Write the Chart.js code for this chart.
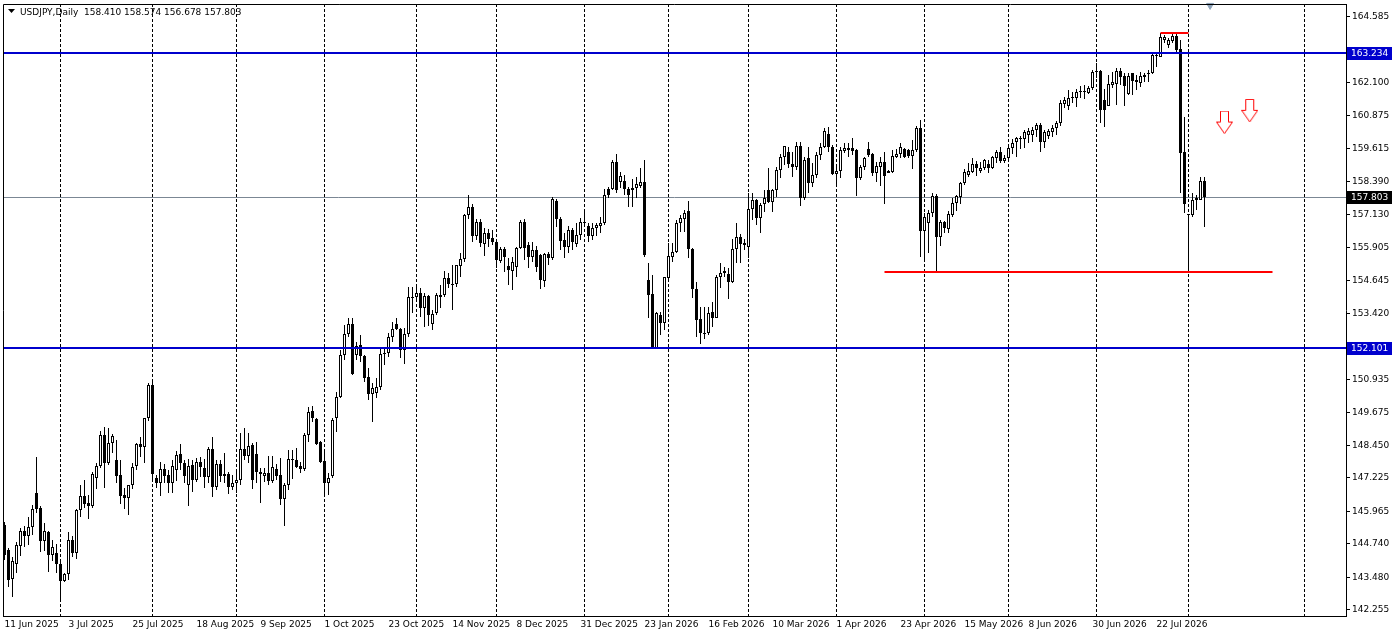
<!DOCTYPE html>
<html>
<head>
<meta charset="utf-8">
<script src="https://cdn.jsdelivr.net/npm/chart.js@4.4.1/dist/chart.umd.min.js"></script>
<style>
  html, body { margin: 0; padding: 0; background: #fff; }
  #wrap { width: 1394px; height: 638px; }
</style>
</head>
<body>
<div id="wrap"><canvas id="chart" width="1394" height="638"></canvas></div>
<script>
// USDJPY daily candles (one bar per trading day from 11 Jun 2025)
const symbolName = "USDJPY,Daily";

const opens = [
  145.45, 144.51, 143.42, 143.98, 144.66, 145.23, 145.04, 145.38, 146.66, 146.09,
  144.85, 145.19, 144.32, 144.40, 143.98, 143.34, 143.61, 144.89, 144.40, 146.02,
  146.55, 146.28, 146.17, 147.22, 147.68, 148.84, 147.79, 148.54, 147.90, 147.34,
  146.58, 146.47, 146.96, 147.68, 148.50, 148.39, 149.48, 150.73, 147.22, 147.04,
  147.56, 147.34, 147.04, 147.53, 148.13, 147.79, 146.96, 147.71, 147.15, 147.83,
  147.60, 147.26, 148.32, 146.89, 147.75, 147.37, 147.37, 146.89, 147.04, 147.15,
  148.32, 148.05, 148.47, 148.13, 147.45, 147.30, 147.41, 147.11, 147.56, 147.34,
  146.43, 146.96, 147.90, 147.90, 147.68, 147.56, 148.84, 149.75, 149.45, 148.58,
  147.86, 147.04, 147.30, 149.48, 150.27, 151.86, 152.65, 153.02, 151.86, 152.23,
  151.82, 151.03, 150.39, 150.43, 150.65, 151.93, 151.93, 152.53, 153.02, 152.84,
  152.04, 152.65, 154.04, 154.04, 154.19, 153.63, 154.08, 153.02, 153.44, 154.04,
  154.12, 154.76, 154.53, 154.53, 155.21, 155.47, 157.13, 157.43, 156.34, 156.86,
  156.04, 156.45, 156.26, 156.11, 155.40, 155.85, 155.21, 155.02, 155.17, 155.89,
  156.86, 156.00, 155.55, 155.81, 155.62, 154.64, 155.66, 155.51, 157.66, 156.98,
  156.19, 155.92, 156.56, 156.04, 156.38, 156.86, 156.71, 156.34, 156.64, 156.71,
  156.83, 158.11, 158.11, 159.12, 158.37, 158.41, 158.11, 158.07, 158.15, 158.22,
  158.37, 154.68, 154.15, 152.12, 153.36, 153.06, 154.76, 155.55, 155.74, 156.83,
  156.98, 157.28, 155.85, 154.34, 153.21, 152.65, 152.68, 153.48, 153.25, 154.79,
  154.94, 154.91, 154.61, 155.85, 156.30, 156.07, 155.92, 157.35, 157.69, 157.02,
  157.54, 158.07, 157.62, 158.07, 158.82, 159.31, 159.50, 159.05, 158.94, 159.73,
  157.77, 159.28, 158.33, 158.64, 159.39, 159.69, 160.18, 159.69, 158.67, 158.79,
  159.54, 159.58, 159.65, 159.58, 158.52, 158.94, 159.61, 159.43, 158.71, 158.94,
  159.12, 158.79, 158.75, 159.31, 159.43, 159.61, 159.58, 159.35, 159.58, 160.41,
  156.53, 156.83, 157.20, 157.84, 156.30, 156.86, 156.60, 157.13, 157.58, 157.81,
  158.33, 158.64, 158.75, 159.05, 158.79, 158.90, 159.05, 158.90, 159.28, 159.50,
  159.16, 159.28, 159.65, 159.88, 159.99, 159.99, 160.14, 160.14, 160.33, 160.52,
  159.88, 160.10, 160.25, 160.41, 160.59, 161.31, 161.23, 161.53, 161.53, 161.76,
  161.76, 161.72, 161.91, 162.55, 162.55, 161.46, 161.23, 162.02, 162.06, 162.55,
  162.36, 161.69, 162.48, 162.21, 162.10, 162.40, 162.44, 162.48, 163.12, 163.08,
  163.72, 163.53, 163.68, 163.87, 163.38, 159.50, 157.17, 157.13, 157.69, 157.69,
  158.410
];

const highs = [
  145.57, 144.59, 144.25, 144.81, 145.34, 145.42, 145.75, 146.21, 148.01, 146.17,
  145.53, 145.23, 144.89, 144.74, 144.14, 143.65, 145.19, 145.04, 146.06, 146.96,
  147.15, 146.58, 147.45, 147.79, 148.99, 149.14, 149.11, 148.88, 148.66, 147.90,
  146.85, 146.96, 147.79, 148.54, 148.77, 149.48, 150.80, 150.88, 147.34, 147.83,
  147.75, 147.53, 147.90, 148.24, 148.50, 147.90, 147.94, 147.90, 147.98, 148.01,
  147.94, 148.39, 148.77, 147.90, 147.90, 148.17, 147.45, 147.34, 147.45, 148.92,
  149.11, 148.92, 148.54, 148.58, 147.60, 147.60, 148.05, 148.05, 147.75, 147.98,
  147.04, 148.28, 148.28, 148.35, 147.83, 148.92, 149.90, 149.94, 149.48, 148.62,
  148.28, 147.41, 149.48, 150.46, 152.04, 152.99, 153.25, 153.25, 152.35, 152.61,
  151.86, 151.37, 150.80, 150.99, 152.16, 152.12, 152.68, 153.10, 153.25, 152.87,
  152.87, 154.42, 154.42, 154.42, 154.38, 154.19, 154.12, 153.55, 154.19, 154.49,
  155.02, 154.94, 155.25, 155.25, 155.70, 157.17, 157.88, 157.54, 156.98, 156.98,
  156.64, 156.60, 156.56, 156.19, 155.92, 155.92, 155.51, 155.55, 155.92, 156.94,
  156.98, 156.11, 156.11, 155.96, 155.66, 155.70, 155.74, 157.81, 157.73, 157.05,
  156.45, 156.71, 156.64, 156.83, 157.02, 157.28, 156.83, 156.83, 156.83, 157.05,
  158.11, 158.18, 159.20, 159.43, 158.75, 158.64, 158.18, 158.48, 158.56, 158.90,
  159.20, 155.32, 154.87, 153.48, 153.48, 154.79, 156.07, 156.07, 156.94, 157.13,
  157.32, 157.66, 155.89, 154.61, 153.66, 153.66, 153.66, 153.85, 154.87, 155.32,
  155.17, 155.13, 156.22, 156.83, 156.41, 156.22, 157.96, 157.96, 157.73, 157.58,
  158.07, 158.90, 158.11, 158.94, 159.43, 159.73, 159.69, 159.50, 159.88, 159.88,
  159.31, 159.69, 159.09, 159.50, 159.84, 160.41, 160.44, 159.77, 159.01, 159.69,
  159.84, 159.84, 160.03, 159.61, 159.01, 159.31, 159.88, 159.46, 159.12, 159.31,
  159.50, 158.82, 159.58, 159.61, 159.84, 159.65, 159.61, 159.95, 160.48, 160.71,
  157.20, 157.32, 157.96, 157.92, 156.94, 156.90, 157.28, 157.77, 157.88, 158.37,
  158.86, 159.09, 159.28, 159.16, 159.12, 159.24, 159.20, 159.35, 159.58, 159.69,
  159.39, 159.69, 159.99, 160.07, 160.10, 160.33, 160.41, 160.44, 160.59, 160.59,
  160.33, 160.37, 160.52, 160.67, 161.46, 161.57, 161.84, 161.76, 161.87, 161.99,
  162.02, 161.99, 162.59, 162.85, 162.59, 161.87, 162.40, 162.51, 162.66, 162.66,
  162.48, 162.48, 162.48, 162.40, 162.51, 162.48, 162.59, 163.27, 163.27, 163.98,
  163.91, 163.79, 163.98, 163.95, 163.72, 160.82, 157.17, 157.96, 157.88, 158.56,
  158.574
];

const lows = [
  144.14, 143.12, 142.74, 143.65, 144.29, 144.63, 144.70, 145.08, 145.91, 144.44,
  144.47, 143.68, 144.10, 143.65, 142.63, 143.31, 143.38, 144.25, 144.17, 145.75,
  146.09, 145.68, 146.09, 146.81, 147.60, 146.85, 147.71, 148.17, 147.04, 146.24,
  146.06, 145.83, 146.81, 147.53, 148.01, 147.79, 149.37, 147.19, 146.85, 146.55,
  147.04, 146.66, 146.66, 147.11, 147.53, 147.04, 146.17, 146.70, 147.07, 147.26,
  146.85, 147.04, 146.51, 146.77, 147.07, 147.04, 146.62, 146.77, 146.66, 146.96,
  147.90, 147.79, 146.81, 147.04, 146.28, 147.07, 146.96, 147.04, 147.15, 146.21,
  145.42, 146.77, 147.19, 147.60, 147.41, 147.49, 148.58, 149.33, 148.47, 147.79,
  146.55, 146.58, 147.22, 148.96, 150.24, 151.67, 152.53, 151.10, 151.67, 151.59,
  150.84, 150.16, 149.33, 150.24, 150.54, 151.48, 151.78, 152.35, 152.80, 151.74,
  151.52, 152.53, 153.44, 153.93, 153.29, 152.91, 152.95, 152.80, 153.36, 153.63,
  154.04, 154.38, 153.55, 154.42, 154.79, 155.36, 156.98, 156.11, 156.19, 155.92,
  155.58, 155.92, 156.00, 155.13, 155.32, 154.98, 154.49, 154.30, 154.79, 155.85,
  155.43, 155.13, 155.36, 154.98, 154.34, 154.42, 155.25, 155.43, 156.68, 155.81,
  155.51, 155.70, 155.81, 155.92, 156.19, 156.68, 156.11, 156.19, 156.34, 156.45,
  156.75, 157.77, 158.07, 157.96, 158.15, 157.88, 157.43, 157.43, 157.77, 158.15,
  155.55, 153.25, 152.12, 152.12, 152.61, 152.80, 154.68, 155.36, 155.70, 156.49,
  156.49, 155.51, 154.00, 152.53, 152.27, 152.46, 152.61, 152.91, 153.25, 154.38,
  154.79, 153.97, 154.57, 155.32, 155.32, 155.81, 155.51, 156.94, 156.75, 156.45,
  157.24, 157.58, 157.24, 157.81, 158.52, 159.01, 158.90, 158.56, 158.82, 157.47,
  157.69, 157.96, 158.18, 158.52, 159.20, 159.65, 159.50, 158.64, 158.22, 158.52,
  159.46, 159.31, 159.39, 157.84, 158.45, 158.82, 159.31, 158.60, 158.37, 158.22,
  157.54, 158.71, 158.71, 159.28, 159.28, 159.28, 159.28, 158.86, 159.50, 155.55,
  155.43, 155.70, 157.05, 155.02, 155.96, 156.45, 156.45, 157.05, 157.28, 157.54,
  158.26, 158.56, 158.71, 158.60, 158.71, 158.82, 158.71, 158.86, 159.09, 159.09,
  159.09, 159.16, 159.43, 159.31, 159.61, 159.65, 159.84, 159.88, 160.07, 159.50,
  159.65, 159.99, 160.07, 160.14, 160.48, 161.16, 161.08, 161.35, 161.20, 161.53,
  161.50, 161.69, 161.84, 162.29, 160.59, 160.44, 161.23, 161.91, 161.27, 162.02,
  161.23, 161.65, 161.65, 161.84, 161.95, 162.14, 162.14, 162.44, 162.70, 163.08,
  163.61, 163.42, 163.61, 163.27, 157.96, 157.20, 155.09, 157.05, 157.32, 157.69,
  156.678
];

const closes = [
  144.32, 143.38, 144.10, 144.70, 145.23, 145.04, 145.38, 146.06, 146.06, 144.85,
  145.23, 144.32, 144.63, 143.98, 143.34, 143.61, 144.89, 144.40, 146.02, 146.55,
  146.24, 146.17, 147.37, 147.68, 148.84, 147.79, 148.54, 148.81, 147.30, 146.55,
  146.47, 146.96, 147.64, 148.50, 148.39, 149.48, 150.73, 147.37, 147.04, 147.56,
  147.30, 147.04, 147.68, 148.09, 147.79, 147.30, 147.68, 147.15, 147.83, 147.64,
  147.26, 148.32, 146.89, 147.75, 147.30, 147.30, 146.89, 147.04, 147.15, 148.32,
  148.05, 148.43, 147.15, 147.45, 147.37, 147.41, 147.11, 147.64, 147.30, 146.43,
  146.96, 147.94, 147.94, 147.64, 147.56, 148.84, 149.71, 149.48, 148.50, 147.83,
  147.04, 147.22, 149.41, 150.27, 151.86, 152.65, 153.02, 151.14, 152.20, 151.82,
  150.99, 150.39, 150.61, 150.65, 151.89, 151.89, 152.53, 152.84, 152.84, 152.04,
  152.65, 154.04, 154.00, 154.19, 153.63, 154.08, 153.36, 153.40, 154.12, 154.12,
  154.76, 154.53, 154.49, 155.25, 155.47, 157.13, 157.43, 156.34, 156.86, 156.07,
  156.45, 156.22, 156.11, 155.43, 155.85, 155.55, 155.06, 155.36, 155.89, 156.86,
  155.89, 155.55, 155.81, 155.17, 154.68, 155.66, 155.51, 157.73, 156.98, 156.15,
  155.92, 156.56, 156.11, 156.38, 156.86, 156.83, 156.34, 156.64, 156.75, 156.83,
  157.88, 157.88, 159.12, 158.07, 158.60, 158.11, 157.88, 158.15, 158.30, 158.37,
  155.62, 154.12, 152.12, 153.44, 153.06, 154.79, 155.58, 155.74, 156.83, 157.02,
  157.20, 155.85, 154.34, 153.17, 152.68, 152.68, 153.44, 153.25, 154.79, 154.94,
  155.02, 154.61, 155.85, 156.30, 156.04, 156.00, 157.35, 157.69, 157.02, 157.51,
  157.77, 157.62, 158.07, 158.82, 159.31, 159.73, 159.05, 158.94, 159.73, 157.77,
  159.20, 158.33, 158.64, 159.39, 159.69, 160.29, 159.69, 158.67, 158.79, 159.58,
  159.65, 159.65, 159.54, 158.52, 158.94, 159.28, 159.39, 158.71, 158.97, 159.12,
  158.60, 158.71, 159.35, 159.43, 159.69, 159.31, 159.35, 159.58, 160.41, 156.53,
  157.05, 157.20, 157.84, 156.30, 156.86, 156.64, 157.17, 157.58, 157.84, 158.33,
  158.75, 158.79, 159.05, 158.90, 158.90, 159.20, 158.90, 159.31, 159.50, 159.16,
  159.28, 159.65, 159.84, 160.03, 160.03, 160.25, 160.29, 160.33, 160.52, 159.88,
  160.25, 160.29, 160.41, 160.59, 161.35, 161.46, 161.53, 161.57, 161.76, 161.80,
  161.80, 161.91, 162.51, 162.51, 161.08, 161.08, 162.06, 162.14, 162.55, 162.33,
  161.99, 162.36, 162.18, 162.14, 162.36, 162.33, 162.48, 163.15, 163.15, 163.83,
  163.83, 163.72, 163.87, 163.34, 159.46, 157.54, 157.13, 157.69, 157.77, 158.41,
  157.803
];

// time axis: a date label every 16 bars, dashed grid at first bar of each month
const labelEvery = 16;
const dateLabels = [
  "11 Jun 2025", "3 Jul 2025", "25 Jul 2025", "18 Aug 2025", "9 Sep 2025",
  "1 Oct 2025", "23 Oct 2025", "14 Nov 2025", "8 Dec 2025", "31 Dec 2025",
  "23 Jan 2026", "16 Feb 2026", "10 Mar 2026", "1 Apr 2026", "23 Apr 2026",
  "15 May 2026", "8 Jun 2026", "30 Jun 2026", "22 Jul 2026"
];
const monthStarts = [14, 37, 58, 80, 103, 123, 145, 166, 186, 208, 230, 251, 273, 296, 325];

// price axis
const priceTicks = [
  142.255, 143.480, 144.740, 145.965, 147.225, 148.450, 149.675, 150.935,
  153.420, 154.645, 155.905, 157.130, 158.390, 159.615, 160.875, 162.100, 164.585
];
const yMin = 142.026, yMax = 165.074;
const xMin = -0.375, xMax = 335.375;

// drawn objects
const blueLevels = [163.234, 152.101];
const bidPrice = 157.803;
const supportLine = [220, 317, 154.99];   // from bar, to bar, price
const highLine = [289, 296, 163.98];
const arrowBars = [305.0, 311.3];
const arrowPrices = [160.61, 161.05];

const FONT = "DejaVu Sans";

function makeArrow() {
  const c = document.createElement("canvas");
  c.width = 17; c.height = 24;
  const g = c.getContext("2d");
  g.beginPath();
  g.moveTo(4.5, 0.5); g.lineTo(12.5, 0.5); g.lineTo(12.5, 11.5);
  g.lineTo(16.5, 11.5); g.lineTo(8.5, 23); g.lineTo(0.5, 11.5);
  g.lineTo(4.5, 11.5); g.closePath();
  g.fillStyle = "#fff"; g.fill();
  g.strokeStyle = "#ff0000"; g.lineWidth = 1; g.stroke();
  return c;
}

// no label padding: keep the plot box where MT4 puts it
function noPad(s) {
  s.paddingTop = 0; s.paddingBottom = 0; s.paddingLeft = 0; s.paddingRight = 0;
}

// snap candles and level lines to whole pixels, like the terminal does
const crispPlugin = {
  id: "crisp",
  afterDatasetsUpdate(chart) {
    chart.data.datasets.forEach((ds, di) => {
      const meta = chart.getDatasetMeta(di);
      if (meta.type === "bar") {
        meta.data.forEach(el => {
          el.y = Math.round(el.y);
          el.base = Math.round(el.base);
          if (el.y === el.base) el.y = el.base - 1;
        });
      } else if (ds.crisp) {
        const off = ds.borderWidth % 2 ? 0.5 : 0;
        meta.data.forEach(p => { p.y = Math.round(p.y - off) + off; });
      }
    });
  }
};

const mtPlugin = {
  id: "mtLook",
  afterDraw(chart) {
    const { ctx, chartArea: a, scales } = chart;
    ctx.save();
    // left / top frame
    ctx.strokeStyle = "#000"; ctx.lineWidth = 1;
    ctx.beginPath();
    ctx.moveTo(a.left + 0.5, a.bottom); ctx.lineTo(a.left + 0.5, a.top + 0.5); ctx.lineTo(a.right, a.top + 0.5);
    ctx.stroke();
    // symbol title
    ctx.fillStyle = "#000";
    ctx.beginPath(); ctx.moveTo(8, 9); ctx.lineTo(15, 9); ctx.lineTo(11.5, 13); ctx.closePath(); ctx.fill();
    const n = closes.length - 1;
    ctx.font = "9px " + FONT;
    ctx.textBaseline = "alphabetic";
    ctx.fillText(symbolName + "  " + [opens[n], highs[n], lows[n], closes[n]].map(v => v.toFixed(3)).join(" "), 20, 15);
    // price-axis boxes
    const boxes = [[blueLevels[0], "#0000cd"], [blueLevels[1], "#0000cd"], [bidPrice, "#000"]];
    ctx.textBaseline = "middle";
    boxes.forEach(([v, bg]) => {
      const y = Math.round(scales.y.getPixelForValue(v));
      ctx.fillStyle = bg;
      ctx.fillRect(a.right + 1, y - 6, 45, 13);
      ctx.fillStyle = "#fff";
      ctx.fillText(v.toFixed(3), a.right + 5, y + 0.5);
    });
    ctx.restore();
  }
};

const hline = (x0, x1, y, color, w, order) => ({
  type: "line",
  data: [{ x: x0, y }, { x: x1, y }],
  borderColor: color, borderWidth: w, pointRadius: 0, order, crisp: true
});

new Chart(document.getElementById("chart"), {
  type: "bar",
  data: {
    datasets: [
      hline(xMin, xMax, bidPrice, "#7b8794", 1, 10),
      {
        label: "wick",
        data: opens.map((o, i) => ({ x: i, y: [lows[i], highs[i]] })),
        backgroundColor: "#000",
        borderWidth: 0,
        barThickness: 1,
        grouped: false,
        inflateAmount: 0,
        order: 5
      },
      {
        label: "body",
        data: opens.map((o, i) => ({ x: i, y: [o, closes[i]] })),
        backgroundColor: opens.map((o, i) => (closes[i] >= o ? "#fff" : "#000")),
        borderColor: "#000",
        borderWidth: 1,
        borderSkipped: false,
        barThickness: 3,
        minBarLength: 1,
        grouped: false,
        inflateAmount: 0,
        order: 4
      },
      hline(xMin, xMax, blueLevels[0], "#0000cd", 2, 1),
      hline(xMin, xMax, blueLevels[1], "#0000cd", 2, 1),
      hline(supportLine[0], supportLine[1], supportLine[2], "#ff0000", 2, 1),
      hline(highLine[0], highLine[1], highLine[2], "#ff0000", 2, 1),
      {
        type: "line",
        data: arrowBars.map((x, k) => ({ x, y: arrowPrices[k] })),
        showLine: false,
        pointStyle: makeArrow(),
        order: 0
      },
      {
        type: "line",
        data: [{ x: 301.4, y: 165.02 }],
        showLine: false,
        pointStyle: "triangle",
        rotation: 180,
        pointRadius: 4,
        backgroundColor: "#8fa4ba",
        borderColor: "#8fa4ba",
        clip: false,
        order: 0
      }
    ]
  },
  options: {
    responsive: false,
    animation: false,
    events: [],
    layout: { autoPadding: false, padding: { left: 3, top: 4, right: 0, bottom: 0 } },
    plugins: { legend: { display: false }, tooltip: { enabled: false } },
    scales: {
      x: {
        type: "linear", min: xMin, max: xMax, offset: false,
        grid: { display: false, drawTicks: false, offset: false },
        border: { display: true, color: "#000" },
        ticks: {
          align: "start", autoSkip: false, maxRotation: 0, padding: 3,
          color: "#000", font: { family: FONT, size: 9 },
          callback: v => dateLabels[Math.round(v / labelEvery)] || ""
        },
        afterBuildTicks: s => { s.ticks = dateLabels.map((_, k) => ({ value: k * labelEvery })); },
        afterFit: s => { s.height = 22; noPad(s); }
      },
      x2: {
        type: "linear", min: xMin, max: xMax, offset: false, position: "bottom",
        grid: { color: "#000", lineWidth: 1, drawTicks: false, offset: false },
        border: { display: false, dash: [3, 2] },
        ticks: { display: false },
        afterBuildTicks: s => { s.ticks = monthStarts.map(v => ({ value: v })); },
        afterFit: s => { s.height = 0; noPad(s); }
      },
      y: {
        type: "linear", position: "right", min: yMin, max: yMax,
        grid: { drawOnChartArea: false, drawTicks: true, tickLength: 4, color: "#000" },
        border: { display: true, color: "#000" },
        ticks: {
          autoSkip: false, padding: 2, color: "#000", font: { family: FONT, size: 9 },
          callback: v => v.toFixed(3)
        },
        afterBuildTicks: s => { s.ticks = priceTicks.map(v => ({ value: v })); },
        afterFit: s => { s.width = 48; noPad(s); }
      }
    }
  },
  plugins: [crispPlugin, mtPlugin]
});
</script>
</body>
</html>
